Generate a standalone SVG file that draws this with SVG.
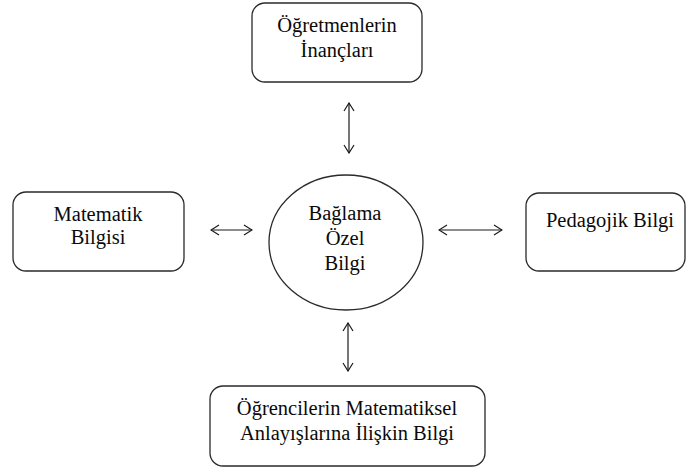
<svg xmlns="http://www.w3.org/2000/svg" width="688" height="470" viewBox="0 0 688 470">
  <defs>
    <marker id="head" viewBox="0 0 10 12" refX="9" refY="6" markerWidth="10" markerHeight="12" markerUnits="userSpaceOnUse" orient="auto-start-reverse">
      <path d="M1,1 L9,6 L1,11" fill="none" stroke="#1a1a1a" stroke-width="1.2"/>
    </marker>
  </defs>
  <style>
    .box { fill: #ffffff; stroke: #2a2a2a; stroke-width: 1.3; }
    .lbl { font-family: "Liberation Serif", "Times New Roman", serif; font-size: 20.5px; fill: #0a0a0a; text-anchor: middle; }
    .link { stroke: #1a1a1a; stroke-width: 1.2; fill: none; marker-start: url(#head); marker-end: url(#head); }
  </style>
  <rect width="688" height="470" fill="#ffffff"/>

  <g id="ogretmen-inanclari">
    <rect class="box" x="252" y="3" width="170" height="79" rx="13"/>
    <text class="lbl" x="337" y="32">Öğretmenlerin</text>
    <text class="lbl" x="337" y="57">İnançları</text>
  </g>

  <g id="matematik-bilgisi">
    <rect class="box" x="13" y="192" width="171" height="79" rx="13"/>
    <text class="lbl" x="98" y="221">Matematik</text>
    <text class="lbl" x="98" y="244">Bilgisi</text>
  </g>

  <g id="baglama-ozel-bilgi">
    <ellipse class="box" cx="346" cy="242.5" rx="77" ry="67.5"/>
    <text class="lbl" x="345" y="220">Bağlama</text>
    <text class="lbl" x="345" y="245">Özel</text>
    <text class="lbl" x="345" y="270">Bilgi</text>
  </g>

  <g id="pedagojik-bilgi">
    <rect class="box" x="526" y="193" width="159" height="78" rx="13"/>
    <text class="lbl" x="610" y="227">Pedagojik Bilgi</text>
  </g>

  <g id="ogrenci-anlayislari">
    <rect class="box" x="210" y="386" width="275" height="80" rx="13"/>
    <text class="lbl" x="347" y="415">Öğrencilerin Matematiksel</text>
    <text class="lbl" x="347" y="440">Anlayışlarına İlişkin Bilgi</text>
  </g>

  <g id="connectors">
    <line class="link" x1="349" y1="103" x2="349" y2="153"/>
    <line class="link" x1="211" y1="230" x2="252" y2="230"/>
    <line class="link" x1="439" y1="230" x2="502" y2="230"/>
    <line class="link" x1="348" y1="323" x2="348" y2="371"/>
  </g>
</svg>
